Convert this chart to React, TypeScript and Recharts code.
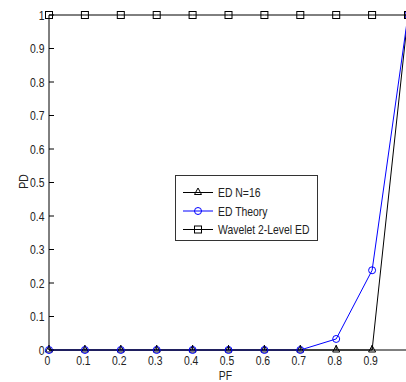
import React from 'react';
import { LineChart, Line, XAxis, YAxis, Legend } from 'recharts';

const PF = [0, 0.1, 0.2, 0.3, 0.4, 0.5, 0.6, 0.7, 0.8, 0.9, 1.0];
const ED_N16 = [0, 0, 0, 0, 0, 0, 0, 0, 0, 0, 1];
const ED_THEORY = [0, 0, 0, 0, 0, 0, 0, 0, 0.033, 0.238, 1];
const WAVELET_2LEVEL = [1, 1, 1, 1, 1, 1, 1, 1, 1, 1, 1];
const X_TICKS = [0, 0.1, 0.2, 0.3, 0.4, 0.5, 0.6, 0.7, 0.8, 0.9, 1];
const X_TICK_LABELS = ['0', '0.1', '0.2', '0.3', '0.4', '0.5', '0.6', '0.7', '0.8', '0.9', ''];
const Y_TICKS = [0, 0.1, 0.2, 0.3, 0.4, 0.5, 0.6, 0.7, 0.8, 0.9, 1];
const Y_TICK_LABELS = ['0', '0.1', '0.2', '0.3', '0.4', '0.5', '0.6', '0.7', '0.8', '0.9', '1'];
const SERIES_NAMES = ['ED N=16', 'ED Theory', 'Wavelet 2-Level ED'];

const data = PF.map((pf, i) => ({
  pf,
  edN16: ED_N16[i],
  edTheory: ED_THEORY[i],
  wavelet: WAVELET_2LEVEL[i],
}));

const FONT = "'Liberation Sans', Arial, sans-serif";
const TEXT_COLOR = '#222';
const BLUE = '#0000ff';
const SQUEEZE = 0.8;

const labelFor = (ticks: number[], labels: string[], v: number) => {
  const i = ticks.findIndex((t) => Math.abs(t - v) < 1e-9);
  return i >= 0 ? labels[i] : '';
};

const NarrowText = ({ x, y, anchor = 'start', rotate = 0, children }: any) => (
  <text
    transform={`translate(${x},${y}) rotate(${rotate}) scale(${SQUEEZE},1)`}
    x={0}
    y={0}
    dy="0.35em"
    textAnchor={anchor}
    fontSize={13}
    fontFamily={FONT}
    fill={TEXT_COLOR}
  >
    {children}
  </text>
);

const Triangle = ({ cx, cy, color = '#000' }: any) => (
  <polygon
    points={`${cx},${cy - 4.5} ${cx + 3.5},${cy + 2} ${cx - 3.5},${cy + 2}`}
    fill="none"
    stroke={color}
    strokeWidth={1}
  />
);
const Circle = ({ cx, cy, color = BLUE }: any) => (
  <circle cx={cx} cy={cy} r={3.5} fill="none" stroke={color} strokeWidth={1} />
);
const Square = ({ cx, cy, color = '#000' }: any) => (
  <rect x={cx - 3.5} y={cy - 3.5} width={7} height={7} fill="none" stroke={color} strokeWidth={1} />
);

const BottomTick = (p: any) => (
  <g>
    <line x1={p.x} x2={p.x} y1={p.y} y2={p.y - 5} stroke="#000" />
    <NarrowText x={p.x - 1.5} y={p.y + 10.5} anchor="middle">
      {labelFor(X_TICKS, X_TICK_LABELS, p.payload.value)}
    </NarrowText>
  </g>
);
const TopTick = (p: any) => <line x1={p.x} x2={p.x} y1={p.y} y2={p.y + 5} stroke="#000" />;
const LeftTick = (p: any) => (
  <g>
    <line x1={p.x} x2={p.x + 5} y1={p.y} y2={p.y} stroke="#000" />
    <NarrowText x={p.x - 4.5} y={p.y} anchor="end">
      {labelFor(Y_TICKS, Y_TICK_LABELS, p.payload.value)}
    </NarrowText>
  </g>
);
const RightTick = (p: any) => <line x1={p.x} x2={p.x - 5} y1={p.y} y2={p.y} stroke="#000" />;

const LegendBox = () => {
  const rows = [
    { name: SERIES_NAMES[0], color: '#000', Marker: Triangle },
    { name: SERIES_NAMES[1], color: BLUE, Marker: Circle },
    { name: SERIES_NAMES[2], color: '#000', Marker: Square },
  ];
  return (
    <svg width={143} height={66} style={{ display: 'block' }}>
      <rect x={0.5} y={0.5} width={142} height={65} fill="#fff" stroke="#333" strokeWidth={1} />
      {rows.map((r, i) => {
        const cy = 17.5 + i * 18.5;
        return (
          <g key={r.name}>
            <line x1={8} x2={38} y1={cy} y2={cy} stroke={r.color} strokeWidth={1} />
            <r.Marker cx={23} cy={cy} color={r.color} />
            <NarrowText x={43} y={cy}>
              {r.name}
            </NarrowText>
          </g>
        );
      })}
    </svg>
  );
};

export default function App() {
  return (
    <div
      style={{
        position: 'absolute',
        left: 0,
        top: 0,
        width: 406,
        height: 382,
        overflow: 'hidden',
        background: '#fff',
      }}
    >
      <LineChart width={430} height={382} data={data} margin={{ top: 15, right: 22, left: 0, bottom: 0 }}>
        <XAxis
          dataKey="pf"
          type="number"
          domain={[0, 1]}
          ticks={X_TICKS}
          interval={0}
          height={32}
          tickSize={0}
          tickMargin={0}
          tickLine={false}
          axisLine={{ stroke: '#000' }}
          tick={(p: any) => <BottomTick {...p} />}
          label={(props: any) => {
            const vb = props.viewBox || { x: 49, y: 350, width: 359, height: 32 };
            return (
              <NarrowText x={vb.x + vb.width / 2 - 3} y={vb.y + 25} anchor="middle">
                PF
              </NarrowText>
            );
          }}
        />
        <XAxis
          xAxisId="top"
          orientation="top"
          dataKey="pf"
          type="number"
          domain={[0, 1]}
          ticks={X_TICKS}
          interval={0}
          height={0}
          tickSize={0}
          tickMargin={0}
          tickLine={false}
          axisLine={{ stroke: '#000' }}
          tick={(p: any) => <TopTick {...p} />}
        />
        <YAxis
          type="number"
          domain={[0, 1]}
          ticks={Y_TICKS}
          interval={0}
          width={49}
          tickSize={0}
          tickMargin={0}
          tickLine={false}
          axisLine={{ stroke: '#000' }}
          tick={(p: any) => <LeftTick {...p} />}
          label={(props: any) => {
            const vb = props.viewBox || { x: 0, y: 15, width: 49, height: 335 };
            return (
              <NarrowText x={23} y={vb.y + vb.height / 2 - 1} anchor="middle" rotate={-90}>
                PD
              </NarrowText>
            );
          }}
        />
        <YAxis
          yAxisId="right"
          orientation="right"
          type="number"
          domain={[0, 1]}
          ticks={Y_TICKS}
          interval={0}
          width={0}
          tickSize={0}
          tickMargin={0}
          tickLine={false}
          axisLine={{ stroke: '#000' }}
          tick={(p: any) => <RightTick {...p} />}
        />
        <Legend
          layout="horizontal"
          verticalAlign="middle"
          align="center"
          wrapperStyle={{ position: 'absolute', left: 175, top: 175, width: 143, height: 66 }}
          content={() => <LegendBox />}
        />
        <Line
          type="linear"
          dataKey="edN16"
          name={SERIES_NAMES[0]}
          stroke="#000"
          strokeWidth={1}
          isAnimationActive={false}
          dot={(p: any) => <Triangle key={`t${p.index}`} cx={p.cx} cy={p.cy} color="#000" />}
          activeDot={false}
        />
        <Line
          type="linear"
          dataKey="edTheory"
          name={SERIES_NAMES[1]}
          stroke={BLUE}
          strokeWidth={1}
          isAnimationActive={false}
          dot={(p: any) => <Circle key={`c${p.index}`} cx={p.cx} cy={p.cy} color={BLUE} />}
          activeDot={false}
        />
        <Line
          type="linear"
          dataKey="wavelet"
          name={SERIES_NAMES[2]}
          stroke="#000"
          strokeWidth={1}
          isAnimationActive={false}
          dot={(p: any) => <Square key={`s${p.index}`} cx={p.cx} cy={p.cy} color="#000" />}
          activeDot={false}
        />
      </LineChart>
    </div>
  );
}
